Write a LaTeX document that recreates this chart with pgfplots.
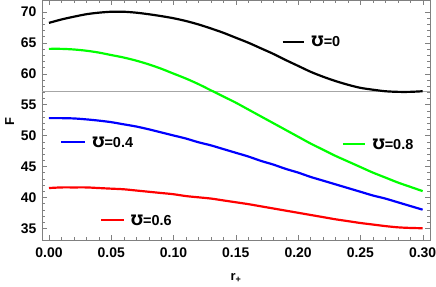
\documentclass[border=0pt]{standalone}
\usepackage{pgfplots}
\pgfplotsset{compat=1.18}
\usepackage{fontspec}
\setmainfont{Liberation Sans}[UprightFont={Liberation Sans Bold}, BoldFont={Liberation Sans Bold}]
\newfontfamily\dv{DejaVu Sans}[UprightFont={DejaVu Sans Bold}]
\newcommand{\Mho}{{\dv ℧}}
\begin{document}
\begin{tikzpicture}
\begin{axis}[
  name=a,
  scale only axis,
  width=388bp, height=240bp,
  xmin=-0.0056, xmax=0.3059,
  ymin=33.1, ymax=71.9,
  axis line style={gray},
  tick style={gray},
  tick align=inside,
  xtick={0,0.05,...,0.30},
  ytick={35,40,...,70},
  minor x tick num=4,
  minor y tick num=4,
  major tick length=5bp,
  minor tick length=3bp,
  xticklabel style={/pgf/number format/fixed,/pgf/number format/fixed zerofill,/pgf/number format/precision=2, yshift=-4bp},
  yticklabel style={xshift=-2bp},
  /pgf/number format/assume math mode=true,
  tick label style={font=\fontsize{14}{16}\selectfont\bfseries, text=black},
  extra y ticks={57.1},
  extra y tick labels={},
  extra y tick style={grid=major, major grid style={gray!70, line width=0.5pt}, major tick length=0pt},
  xlabel={r\textsubscript{+}},
  ylabel={F},
  label style={font=\fontsize{13}{15}\selectfont\bfseries},
  ylabel style={at={(ticklabel cs:0.5)}, xshift=-2bp},
  xlabel style={yshift=-9bp},
  clip=true,
]
\addplot[black, line width=2.2pt, smooth] coordinates {(0,68.2)(0.01,68.75)(0.02,69.2)(0.03,69.6)(0.04,69.85)(0.05,70.0)(0.06,70.0)(0.07,69.85)(0.08,69.6)(0.09,69.3)(0.10,68.95)(0.11,68.5)(0.12,67.95)(0.13,67.3)(0.14,66.6)(0.15,65.8)(0.16,65.0)(0.17,64.1)(0.18,63.2)(0.19,62.2)(0.20,61.25)(0.21,60.3)(0.22,59.5)(0.23,58.8)(0.24,58.2)(0.25,57.7)(0.26,57.4)(0.27,57.15)(0.28,57.05)(0.29,57.05)(0.30,57.15)};
\addplot[green, line width=2.2pt, smooth] coordinates {(0,64.0)(0.01,64.0)(0.02,63.9)(0.03,63.7)(0.04,63.4)(0.05,63.0)(0.06,62.6)(0.07,62.1)(0.08,61.5)(0.09,60.8)(0.10,60.0)(0.11,59.2)(0.12,58.3)(0.13,57.3)(0.14,56.3)(0.15,55.3)(0.16,54.2)(0.17,53.1)(0.18,52.0)(0.19,50.9)(0.20,49.8)(0.21,48.7)(0.22,47.7)(0.23,46.7)(0.24,45.8)(0.25,44.9)(0.26,44.0)(0.27,43.2)(0.28,42.4)(0.29,41.7)(0.30,41.0)};
\addplot[blue, line width=2.2pt, smooth] coordinates {(0,52.8)(0.01,52.8)(0.02,52.75)(0.03,52.6)(0.04,52.4)(0.05,52.15)(0.06,51.8)(0.07,51.45)(0.08,51.0)(0.09,50.5)(0.10,50.0)(0.11,49.5)(0.12,48.9)(0.13,48.4)(0.14,47.8)(0.15,47.2)(0.16,46.6)(0.17,45.9)(0.18,45.3)(0.19,44.6)(0.20,44.0)(0.21,43.3)(0.22,42.7)(0.23,42.1)(0.24,41.5)(0.25,40.9)(0.26,40.3)(0.27,39.8)(0.28,39.2)(0.29,38.6)(0.30,38.0)};
\addplot[red, line width=2.2pt, smooth] coordinates {(0,41.5)(0.01,41.6)(0.02,41.6)(0.03,41.6)(0.04,41.5)(0.05,41.4)(0.06,41.3)(0.07,41.1)(0.08,40.9)(0.09,40.7)(0.10,40.5)(0.11,40.2)(0.12,40.0)(0.13,39.8)(0.14,39.5)(0.15,39.2)(0.16,38.9)(0.17,38.55)(0.18,38.2)(0.19,37.85)(0.20,37.5)(0.21,37.15)(0.22,36.8)(0.23,36.45)(0.24,36.15)(0.25,35.85)(0.26,35.6)(0.27,35.35)(0.28,35.15)(0.29,35.05)(0.30,35.0)};
% in-plot label keys
\addplot[black, line width=2.2pt, forget plot] table {
x y
0.1876 65.15
0.205 65.15
};
\addplot[color=green, line width=2.2pt, forget plot] table {
x y
0.236 48.6
0.254 48.6
};
\addplot[color=blue, line width=2.2pt, forget plot] table {
x y
0.010 48.9
0.029 48.9
};
\addplot[red, line width=2.2pt, forget plot] table {
x y
0.042 36.35
0.060 36.35
};
\node[right, inner sep=0pt, font=\fontsize{14.5}{16}\selectfont] at (axis cs:0.2106,65.15) {\Mho=0};
\node[right, inner sep=0pt, font=\fontsize{14.5}{16}\selectfont] at (axis cs:0.2596,48.6) {\Mho=0.8};
\node[right, inner sep=0pt, font=\fontsize{14.5}{16}\selectfont] at (axis cs:0.0346,48.9) {\Mho=0.4};
\node[right, inner sep=0pt, font=\fontsize{14.5}{16}\selectfont] at (axis cs:0.0656,36.35) {\Mho=0.6};
\end{axis}
\pgfresetboundingbox
\path[use as bounding box] ([xshift=-42bp,yshift=-47bp]a.south west) rectangle ([xshift=6bp]a.north east);
\end{tikzpicture}
\end{document}
